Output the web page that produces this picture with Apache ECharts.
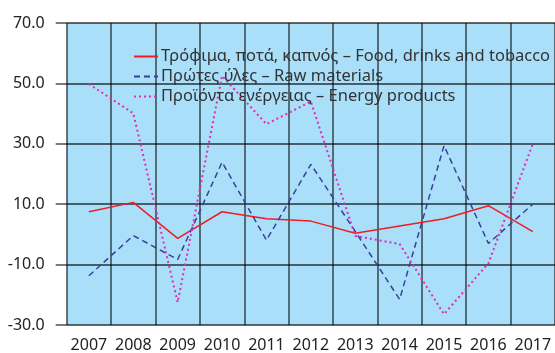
<!DOCTYPE html>
<html>
<head>
<meta charset="utf-8">
<script src="https://cdn.jsdelivr.net/npm/echarts@6/dist/echarts.min.js"></script>
<style>
  html, body { margin: 0; padding: 0; background: #fff; }
  #chart { width: 555px; height: 353px; }
</style>
</head>
<body>
<div id="chart"></div>
<script>
const years = ["2007", "2008", "2009", "2010", "2011", "2012", "2013", "2014", "2015", "2016", "2017"];
const food = [7.5, 10.6, -1.3, 7.5, 5.2, 4.4, 0.4, 2.8, 5.2, 9.5, 0.9];
const raw = [-13.7, -0.4, -8.3, 23.9, -1.9, 23.2, 1.0, -21.5, 29.4, -3.0, 10.0];
const energy = [49.8, 40.1, -22.5, 52.5, 36.5, 44.0, -0.5, -3.2, -26.4, -9.6, 30.0];
const names = [
  "Τρόφιμα, ποτά, καπνός – Food, drinks and tobacco",
  "Πρώτες ύλες – Raw materials",
  "Προϊόντα ενέργειας – Energy products"
];

const font = "Noto Sans";
const gridColor = "rgba(0,0,0,0.58)";
const chart = echarts.init(document.getElementById("chart"), null, { renderer: "canvas" });

const option = {
  animation: false,
  textStyle: { fontFamily: font },
  grid: {
    left: 66.7,
    right: -3,
    top: 23,
    bottom: 28,
    show: true,
    backgroundColor: "#aadff9",
    borderWidth: 0
  },
  legend: {
    orient: "vertical",
    left: 128,
    top: 43,
    itemWidth: 24,
    itemHeight: 10,
    itemGap: 3,
    itemStyle: { opacity: 0 },
    textStyle: { fontSize: 16.5, color: "#333", fontFamily: font, padding: [0, 0, 0, -2] },
    data: names
  },
  xAxis: {
    type: "category",
    data: years,
    boundaryGap: true,
    axisLine: { show: false },
    axisTick: { show: false },
    axisLabel: { interval: 0, fontSize: 16, color: "#222", margin: 12, fontFamily: font },
    splitLine: { show: true, interval: 0, lineStyle: { color: gridColor, width: 1.8 } }
  },
  yAxis: {
    type: "value",
    min: -30,
    max: 70,
    interval: 20,
    axisLine: { show: false },
    axisTick: { show: true, inside: false, length: 11, lineStyle: { color: gridColor, width: 1.8 } },
    axisLabel: {
      fontSize: 16, color: "#222", margin: 22, fontFamily: font,
      formatter: v => v.toFixed(1)
    },
    splitLine: { show: true, lineStyle: { color: gridColor, width: 1.8 } }
  },
  series: [
    {
      name: names[0],
      type: "line",
      data: food,
      symbol: "none",
      lineStyle: { color: "#f01c24", width: 1.5, type: "solid" },
      itemStyle: { color: "#f01c24" }
    },
    {
      name: names[1],
      type: "line",
      data: raw,
      symbol: "none",
      lineStyle: { color: "#3a3f9c", width: 1.5, type: [6, 4] },
      itemStyle: { color: "#3a3f9c" }
    },
    {
      name: names[2],
      type: "line",
      data: energy,
      symbol: "none",
      lineStyle: { color: "#e02cb4", width: 2, type: [2, 3] },
      itemStyle: { color: "#e02cb4" }
    }
  ]
};

chart.setOption(option);
</script>
</body>
</html>
